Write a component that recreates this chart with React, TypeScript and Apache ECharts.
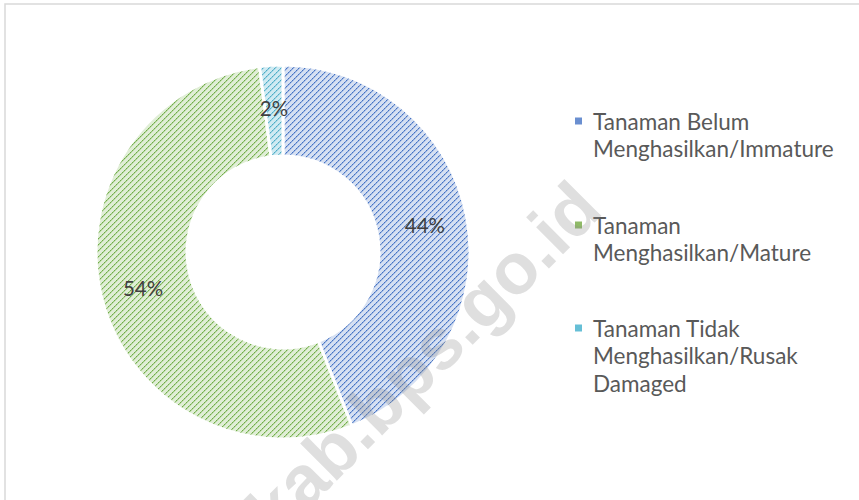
import React, { useEffect, useRef } from "react";
import * as echarts from "echarts";

const categories = [
  "Tanaman Belum\nMenghasilkan/Immature",
  "Tanaman\nMenghasilkan/Mature",
  "Tanaman Tidak\nMenghasilkan/Rusak\nDamaged",
];
const values = [44, 54, 2];
const lineColors = ["#4472c4", "#70ad47", "#4bacc6"];
const bgColors = ["#d6e0f2", "#e0eed6", "#cfeaf2"];
const markerColors = ["#6a8fd0", "#8fba67", "#66bfd6"];
const watermarkText = "ckab.bps.go.id";

function hexToRgb(hex: string) {
  return [
    parseInt(hex.slice(1, 3), 16),
    parseInt(hex.slice(3, 5), 16),
    parseInt(hex.slice(5, 7), 16),
  ];
}

function makePattern(bg: string, line: string) {
  const s = 6;
  const c = document.createElement("canvas");
  c.width = s;
  c.height = s;
  const ctx = c.getContext("2d")!;
  const img = ctx.createImageData(s, s);
  const b = hexToRgb(bg);
  const l = hexToRgb(line);
  for (let y = 0; y < s; y++) {
    for (let x = 0; x < s; x++) {
      const k = (x + y) % s;
      let t = 0;
      if (k === 0) t = x % 2 === 0 ? 1 : 0.7;
      else if (k === 1) t = 0.35;
      const i = (y * s + x) * 4;
      img.data[i] = Math.round(b[0] * (1 - t) + l[0] * t);
      img.data[i + 1] = Math.round(b[1] * (1 - t) + l[1] * t);
      img.data[i + 2] = Math.round(b[2] * (1 - t) + l[2] * t);
      img.data[i + 3] = 255;
    }
  }
  ctx.putImageData(img, 0, 0);
  return c.toDataURL();
}

export default function App() {
  const ref = useRef<HTMLDivElement>(null);
  useEffect(() => {
    document.body.style.margin = "0";
    if (!ref.current) return;
    const chart = echarts.init(ref.current, null, { renderer: "svg" });

    const data = categories.map((name, i) => ({
      name,
      value: values[i],
      itemStyle: {
        color: {
          image: makePattern(bgColors[i], lineColors[i]),
          repeat: "repeat",
          imageWidth: 6,
          imageHeight: 6,
        } as any,
      },
    }));

    const legendTops = [121, 225, 328];
    const lineH = 27.5;
    const legendEls: any[] = [];
    categories.forEach((name, i) => {
      legendEls.push({
        type: "rect",
        shape: { x: 575, y: legendTops[i] - 3.5, width: 7, height: 7 },
        style: { fill: markerColors[i] },
      });
      legendEls.push({
        type: "text",
        x: 593,
        y: legendTops[i] - lineH / 2,
        style: {
          text: name,
          fontSize: 22.5,
          lineHeight: lineH,
          fontFamily: "Lato",
          fill: "#595959",
          align: "left",
          verticalAlign: "top",
        },
      });
    });

    chart.setOption({
      animation: false,
      backgroundColor: "#ffffff",
      series: [
        {
          type: "pie",
          center: [283, 252],
          radius: [96, 187],
          startAngle: 90,
          clockwise: true,
          silent: true,
          data,
          itemStyle: { borderColor: "#ffffff", borderWidth: 3 },
          label: {
            show: true,
            position: "inside",
            formatter: (p: any) => Math.round(p.percent) + "%",
            fontSize: 20.5,
            fontFamily: "Lato",
            color: "#404040",
          },
          labelLine: { show: false },
          emphasis: { disabled: true },
        },
      ],
      graphic: [
        {
          type: "rect",
          z: 0,
          shape: { x: 5, y: 4, width: 900, height: 600 },
          style: { fill: "none", stroke: "#d9d9d9", lineWidth: 1.5 },
        },
        ...legendEls,
        {
          type: "text",
          z: 100,
          x: 409,
          y: 373,
          rotation: Math.PI / 4,
          silent: true,
          style: {
            text: watermarkText,
            fontSize: 72,
            fontWeight: "bold",
            fontFamily: "Liberation Sans",
            fill: "rgba(140,140,140,0.28)",
            align: "center",
            verticalAlign: "middle",
          },
        },
      ],
    });
    return () => chart.dispose();
  }, []);
  return <div ref={ref} style={{ width: 859, height: 500 }} />;
}
